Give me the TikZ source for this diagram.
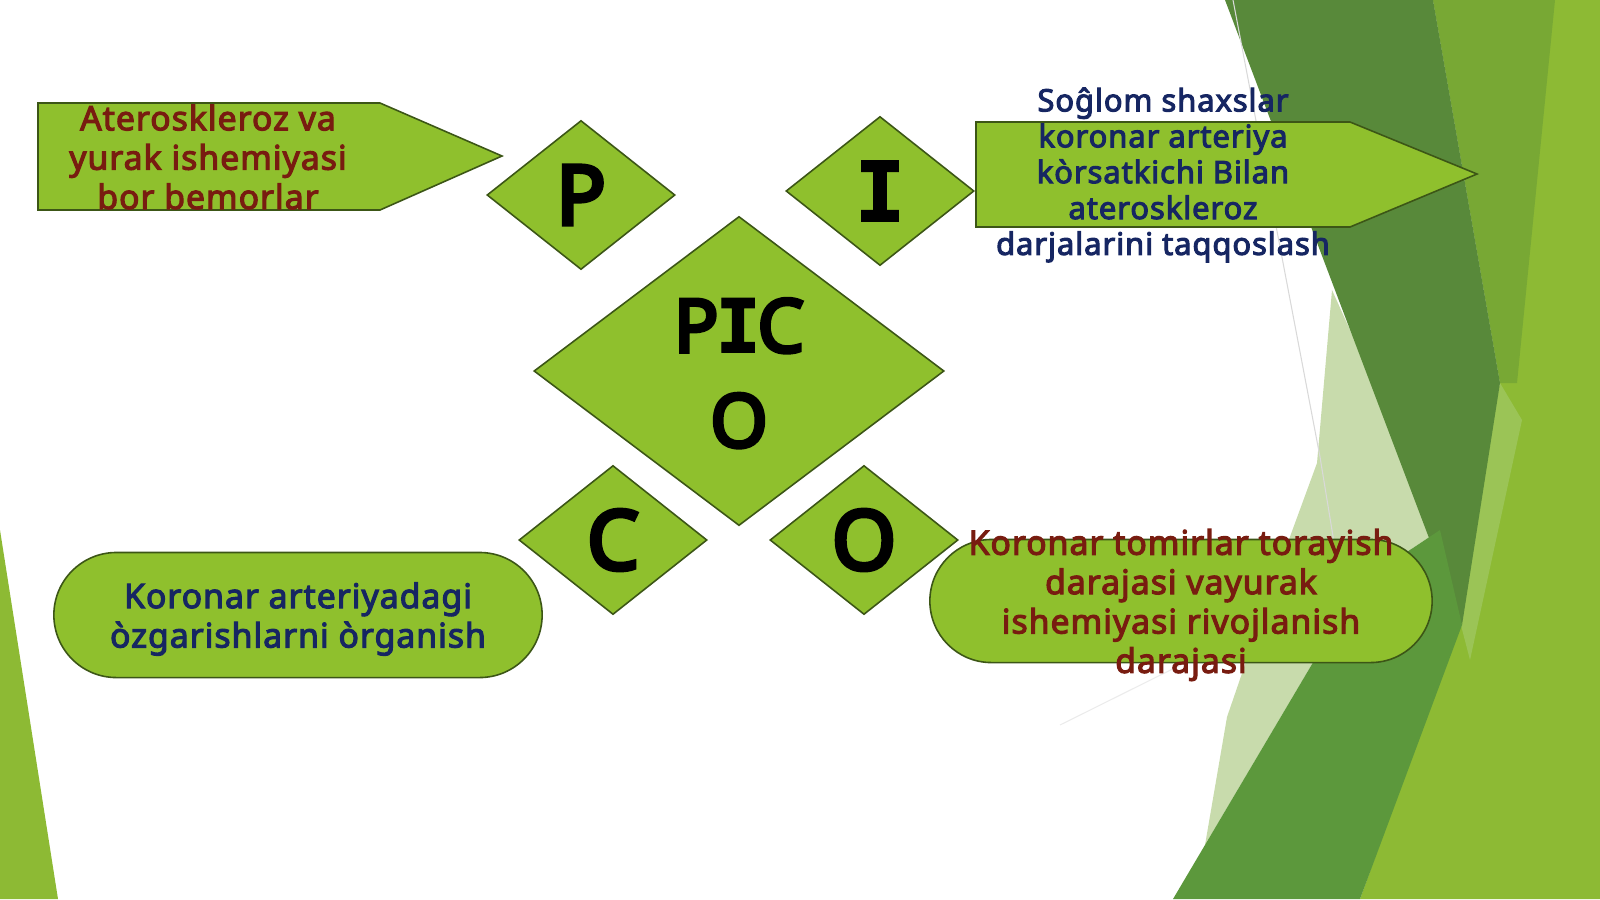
\documentclass[tikz,border=0pt]{standalone}
\usepackage{fontspec}
\setmainfont{Noto Sans}[AutoFakeBold=3.3, LetterSpace=3]
\newfontfamily\letterfont{Noto Sans}[FakeBold=5]
\newfontfamily\serifI{DejaVu Sans Mono}[FakeBold=2]
\usetikzlibrary{shapes.geometric, shapes.misc, calc}

\definecolor{leaf}{RGB}{143,192,45}
\definecolor{leafedge}{RGB}{60,86,22}
\definecolor{navytext}{RGB}{22,38,98}
\definecolor{redtext}{RGB}{120,28,16}
\definecolor{facetlight}{RGB}{141,186,52}
\definecolor{facetmid}{RGB}{120,168,52}
\definecolor{facetdark}{RGB}{88,137,58}
\definecolor{facetdeep}{RGB}{92,152,60}
\definecolor{facetpale}{RGB}{200,219,172}
\definecolor{facetsliver}{RGB}{155,196,86}

\begin{document}
\begin{tikzpicture}[x=0.01cm, y=-0.01cm,
        tile/.style={fill=leaf, draw=leafedge, line width=0.45pt},
        letter/.style={font=\letterfont\fontsize{23.5}{27.5}\selectfont, text=black},
        blurb/.style={font=\fontsize{9.6}{11.2}\selectfont\bfseries, align=center}]
        \useasboundingbox (0,0) rectangle (1600,899);

        % background facets
        \fill[facetlight] (1433,0) -- (1600,0) -- (1600,899) -- (1360,899) -- (1462,617) -- (1500,383) -- cycle;
        \fill[facetmid] (1433,0) -- (1555,0) -- (1517,383) -- (1500,383) -- cycle;
        \fill[facetsliver] (1500,383) -- (1522,420) -- (1470,660) -- (1457,610) -- cycle;
        \fill[facetpale] (1332,290) -- (1440,530) -- (1360,583) -- (1205,845) -- (1227,717) -- (1273,583) -- (1317,463) -- cycle;
        \fill[facetdark] (1225,0) -- (1433,0) -- (1500,383) -- (1462,625) -- cycle;
        \fill[facetdeep] (1173,899) -- (1360,899) -- (1462,625) -- (1440,530) -- (1360,583) -- cycle;
        \draw[black!15, line width=0.3pt] (1233,0) -- (1320,457) -- (1350,640);
        \draw[black!8, line width=0.3pt] (1060,725) -- (1257,627);
        \fill[facetlight] (0,530) -- (58,899) -- (0,899) -- cycle;

        % P
        \filldraw[tile] (38,103) -- (380,103) -- (502,156) -- (380,210) -- (38,210) -- cycle;
        \node[blurb, text=redtext] (ptext) at (208,157) {Ateroskleroz va\\yurak ishemiyasi\\bor bemorlar};
        \node[tile, diamond, minimum width=1.88cm, minimum height=1.49cm, inner sep=0pt, letter] (p) at (581,195) {P};

        % I
        \node[tile, diamond, minimum width=1.88cm, minimum height=1.49cm, inner sep=0pt, letter] (i) at (880,191) {\serifI\bfseries I};
        \filldraw[tile] (976,122) -- (1350,122) -- (1477,174) -- (1350,227) -- (976,227) -- cycle;
        \node[blurb, font=\fontsize{8.8}{10.2}\selectfont\bfseries, text=navytext] (itext) at (1163,175) {So\^glom shaxslar\\koronar arteriya\\kòrsatkichi Bilan\\ateroskleroz\\darjalarini taqqoslash};

        % centre
        \node[tile, diamond, minimum width=4.10cm, minimum height=3.09cm, inner sep=0pt] (pico) at (739,371) {};
        \node[letter, font=\letterfont\fontsize{21}{27}\selectfont, align=center] (picotext) at ($(pico.center)+(0,2)$) {P\kern-0.8pt{\serifI\bfseries I}\kern-0.8pt C\\O};

        % C
        \node[tile, diamond, minimum width=1.88cm, minimum height=1.49cm, inner sep=0pt, letter] (c) at (613,540) {C};
        \node[tile, rounded rectangle, minimum width=4.88cm, minimum height=1.25cm, inner sep=0pt] (cbox) at (298,615) {};
        \node[blurb, text=navytext] (ctext) at ($(cbox.center)+(0,4)$) {Koronar arteriyadagi\\òzgarishlarni òrganish};

        % O
        \node[tile, diamond, minimum width=1.88cm, minimum height=1.49cm, inner sep=0pt, letter] (o) at (864,540) {O};
        \node[tile, rounded rectangle, minimum width=5.02cm, minimum height=1.23cm, inner sep=0pt] (obox) at (1181,601) {};
        \node[blurb, text=redtext] (otext) at ($(obox.center)+(0,4)$) {Koronar tomirlar torayish\\darajasi vayurak\\ishemiyasi rivojlanish\\darajasi};
    \end{tikzpicture}
\end{document}
